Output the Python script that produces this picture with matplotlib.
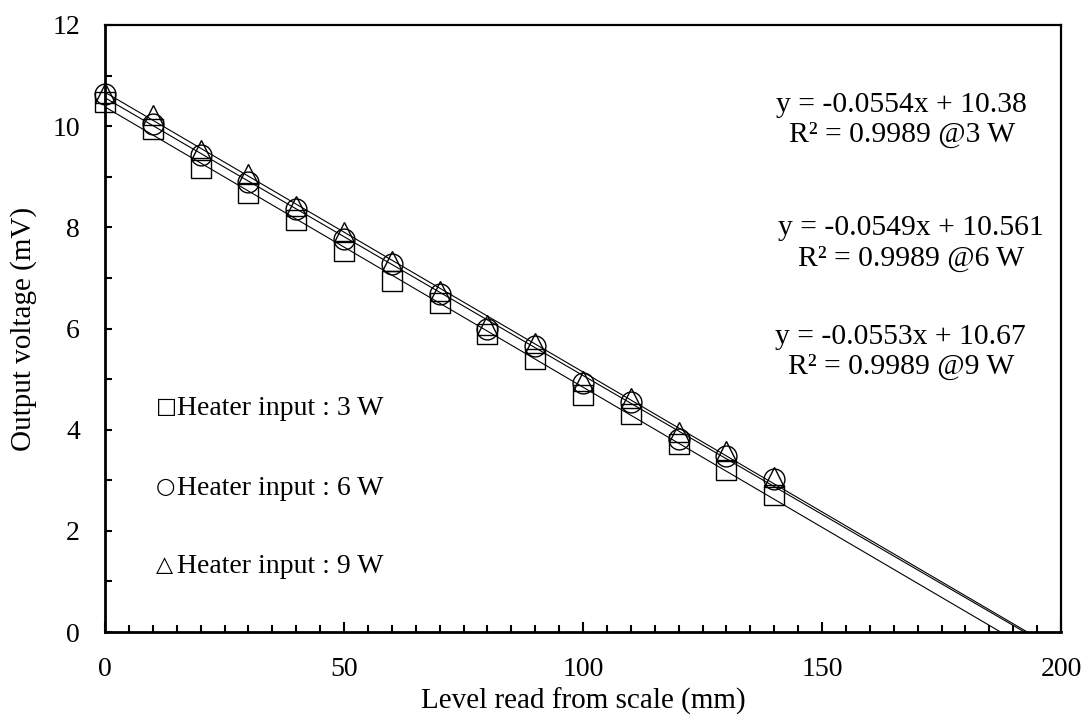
import numpy as np
import matplotlib
matplotlib.use("Agg")
import matplotlib.pyplot as plt
from matplotlib.ticker import MultipleLocator

# ==================================================
# DATA
# ==================================================
level_mm = [0, 10, 20, 30, 40, 50, 60, 70, 80, 90, 100, 110, 120, 130, 140]

volt_3w = [10.47, 9.94, 9.18, 8.67, 8.14, 7.53, 6.93, 6.51, 5.90, 5.40,
           4.68, 4.30, 3.71, 3.21, 2.71]
volt_6w = [10.63, 10.05, 9.43, 8.89, 8.37, 7.77, 7.28, 6.68, 6.00, 5.65,
           4.92, 4.54, 3.81, 3.47, 3.02]
volt_9w = [10.66, 10.22, 9.53, 9.05, 8.42, 7.90, 7.33, 6.74, 6.07, 5.72,
           4.97, 4.62, 3.95, 3.57, 3.07]

# linear fits (slope, intercept) as reported
fit_3w = (-0.0554, 10.38)
fit_6w = (-0.0549, 10.561)
fit_9w = (-0.0553, 10.67)

fit_labels = [
    "y = -0.0554x + 10.38\nR² = 0.9989 @3 W",
    "y = -0.0549x + 10.561\nR² = 0.9989 @6 W",
    "y = -0.0553x + 10.67\nR² = 0.9989 @9 W",
]
legend_labels = ["Heater input : 3 W", "Heater input : 6 W", "Heater input : 9 W"]
legend_glyphs = ["□", "○", "△"]

x_ticks = [0, 50, 100, 150, 200]
y_ticks = [0, 2, 4, 6, 8, 10, 12]

# ==================================================
# PLOT
# ==================================================
plt.rcParams['font.family'] = ['Liberation Serif', 'DejaVu Serif']

fig = plt.figure(figsize=(10.89, 7.24), dpi=100)
ax = fig.add_axes([105 / 1089, 1 - 632 / 724, (1061 - 105) / 1089, (632 - 25) / 724])

# trend lines from x = 0 down to the x-intercept
for slope, icpt in [fit_3w, fit_6w, fit_9w]:
    xs = np.array([0.0, -icpt / slope])
    ax.plot(xs, slope * xs + icpt, color='black', lw=0.8, zorder=2)

mk = dict(linestyle='none', markerfacecolor='none', markeredgecolor='black',
          markeredgewidth=1.0, zorder=3, clip_on=False)
ax.plot(level_mm, volt_3w, marker='s', markersize=15, **mk)
ax.plot(level_mm, volt_6w, marker='o', markersize=15, **mk)
ax.plot(level_mm, volt_9w, marker='^', markersize=14, **mk)

ax.set_xlim(0, 200)
ax.set_ylim(0, 12)
ax.set_xticks(x_ticks)
ax.set_yticks(y_ticks)
ax.xaxis.set_minor_locator(MultipleLocator(5))
ax.yaxis.set_minor_locator(MultipleLocator(1))
ax.tick_params(axis='both', which='major', direction='in', length=7, width=1.5,
               labelsize=20, pad=18)
ax.tick_params(axis='both', which='minor', direction='in', length=5, width=1.5)
ax.tick_params(axis='y', which='major', length=5)

for side in ['left', 'bottom']:
    ax.spines[side].set_linewidth(2.0)
for side in ['top', 'right']:
    ax.spines[side].set_linewidth(1.6)

ax.set_xlabel("Level read from scale (mm)", fontsize=21, labelpad=4)
ax.set_ylabel("Output voltage (mV)", fontsize=21, labelpad=11)

# fit equations
eq_pos = [(166.7, 10.12), (168.6, 7.68), (166.5, 5.53)]
for (tx, ty), txt in zip(eq_pos, fit_labels):
    ax.text(tx, ty, txt, ha='center', va='center', multialignment='center',
            fontsize=21.3, linespacing=1.2)

# hand-made legend
leg_y = [4.41, 2.83, 1.29]
for gy, glyph, lab in zip(leg_y, legend_glyphs, legend_labels):
    ax.text(10.6, gy + 0.03, glyph, ha='left', va='center', fontsize=16,
            family=['DejaVu Sans'])
    ax.text(15.0, gy, lab, ha='left', va='center', fontsize=20)

fig.savefig("out.png", dpi=100)
